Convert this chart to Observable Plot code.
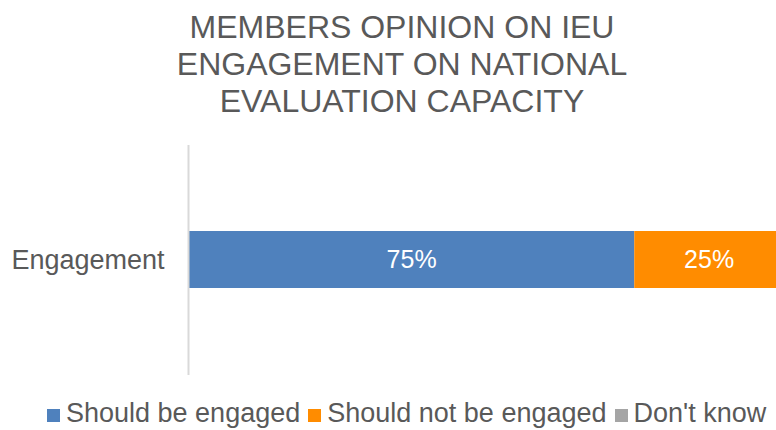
<!DOCTYPE html>
<html>
<head>
<meta charset="utf-8">
<script src="https://cdn.jsdelivr.net/npm/d3@7"></script>
<script src="https://cdn.jsdelivr.net/npm/@observablehq/plot@0.6"></script>
<style>
  html, body { margin: 0; padding: 0; background: #fff; }
  body { width: 776px; height: 430px; overflow: hidden; position: relative; font-family: "Liberation Sans", Arial, sans-serif; }
  #title { position: absolute; top: 9px; left: 28px; width: 748px; text-align: center; font-size: 32px; line-height: 37px; color: #595959; }
  #chart { position: absolute; top: 125px; left: 0; }
  #legend { position: absolute; top: 398px; left: 47px; font-size: 27px; line-height: 31px; color: #595959; white-space: nowrap; display: flex; align-items: center; }
  .sw { display: inline-block; width: 13px; height: 13px; margin-right: 6px; margin-top: 4px; }
  .item { display: inline-flex; align-items: center; margin-right: 8px; }
</style>
</head>
<body>
<div id="title">MEMBERS OPINION ON IEU<br>ENGAGEMENT ON NATIONAL<br>EVALUATION CAPACITY</div>
<div id="chart"></div>
<div id="legend"></div>
<script>
const question = ["Engagement"];
const categories = ["Should be engaged", "Should not be engaged", "Don't know"];
const values = [0.75, 0.25, 0];
const colors = ["#4F81BD", "#FF8C00", "#A5A5A5"];

const data = categories.map((c, i) => ({q: question[0], cat: c, value: values[i]}));

const chart = Plot.plot({
  width: 776,
  height: 280,
  marginLeft: 188,
  marginRight: 0,
  marginTop: 20,
  marginBottom: 30,
  style: {fontFamily: "'Liberation Sans', Arial, sans-serif", background: "#fff"},
  x: {domain: [0, 1], range: [188, 783], axis: null},
  y: {domain: question, padding: 0.6, label: null},
  color: {domain: categories, range: colors},
  marks: [
    Plot.barX(data, Plot.stackX({x: "value", y: "q", fill: "cat"})),
    Plot.textX(data, Plot.stackX({
      x: "value", y: "q", z: "cat",
      text: d => d.value > 0 ? Math.round(d.value * 100) + "%" : "",
      fill: "white", fontSize: 25
    })),
    Plot.ruleX([0], {stroke: "#d9d9d9", strokeWidth: 2}),
    Plot.axisY({tickSize: 0, tickPadding: 24, fontSize: 27, color: "#595959", label: null})
  ]
});
document.getElementById("chart").appendChild(chart);

const legend = document.getElementById("legend");
categories.forEach((c, i) => {
  const it = document.createElement("span");
  it.className = "item";
  const sw = document.createElement("span");
  sw.className = "sw";
  sw.style.background = colors[i];
  it.appendChild(sw);
  it.appendChild(document.createTextNode(c));
  legend.appendChild(it);
});
</script>
</body>
</html>
